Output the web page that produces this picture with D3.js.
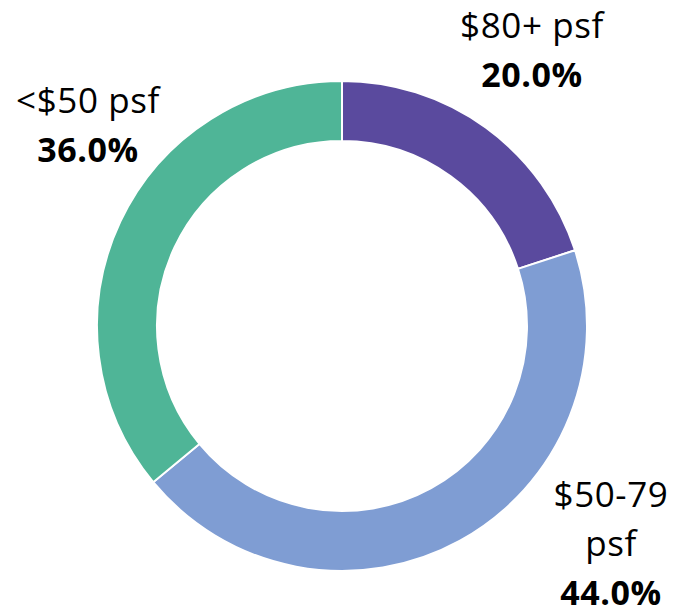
<!DOCTYPE html>
<html>
<head>
<meta charset="utf-8">
<script src="https://cdn.jsdelivr.net/npm/d3@7"></script>
<style>
  body { margin: 0; background: #fff; }
  svg { display: block; font-family: "Open Sans", sans-serif; }
</style>
</head>
<body>
<svg id="chart"></svg>
<script>
// donut data, clockwise from 12 o'clock
const categories = ["$80+ psf", "$50-79 psf", "<$50 psf"];
const shares = [20.0, 44.0, 36.0];
const colors = ["#5a4a9e", "#7f9dd3", "#4fb597"];

// label lines (category text split the way it wraps)
const labelLines = [["$80+ psf"], ["$50-79", "psf"], ["<$50 psf"]];

const width = 674, height = 613;
const cx = 342, cy = 326;
const outerR = 245, innerR = 185;

// label anchors (center x, baseline of first line)
const labelAnchor = [
  { x: 532, y: 38 },
  { x: 611, y: 507 },
  { x: 88, y: 113 }
];
const lineH = 49;

const svg = d3.select("#chart")
  .attr("width", width)
  .attr("height", height);

const g = svg.append("g")
  .attr("transform", `translate(${cx},${cy})`);

const data = categories.map((c, i) => ({ cat: c, value: shares[i], color: colors[i], i }));

const pie = d3.pie()
  .value(d => d.value)
  .sort(null);

const arc = d3.arc()
  .innerRadius(innerR)
  .outerRadius(outerR);

g.selectAll("path")
  .data(pie(data))
  .join("path")
  .attr("d", arc)
  .attr("fill", d => d.data.color)
  .attr("stroke", "#fff")
  .attr("stroke-width", 2);

data.forEach((d, i) => {
  const a = labelAnchor[i];
  const t = svg.append("text")
    .attr("text-anchor", "middle")
    .attr("fill", "#000");
  const lines = labelLines[i];
  lines.forEach((ln, j) => {
    t.append("tspan")
      .attr("x", a.x)
      .attr("y", a.y + j * lineH)
      .attr("font-size", "35px")
      .attr("letter-spacing", "0.6px")
      .text(ln);
  });
  t.append("tspan")
    .attr("x", a.x)
    .attr("y", a.y + lines.length * lineH)
    .attr("font-size", "34px")
    .attr("font-weight", "bold")
    .attr("letter-spacing", "0.6px")
    .text(d3.format(".1f")(d.value) + "%");
});
</script>
</body>
</html>
